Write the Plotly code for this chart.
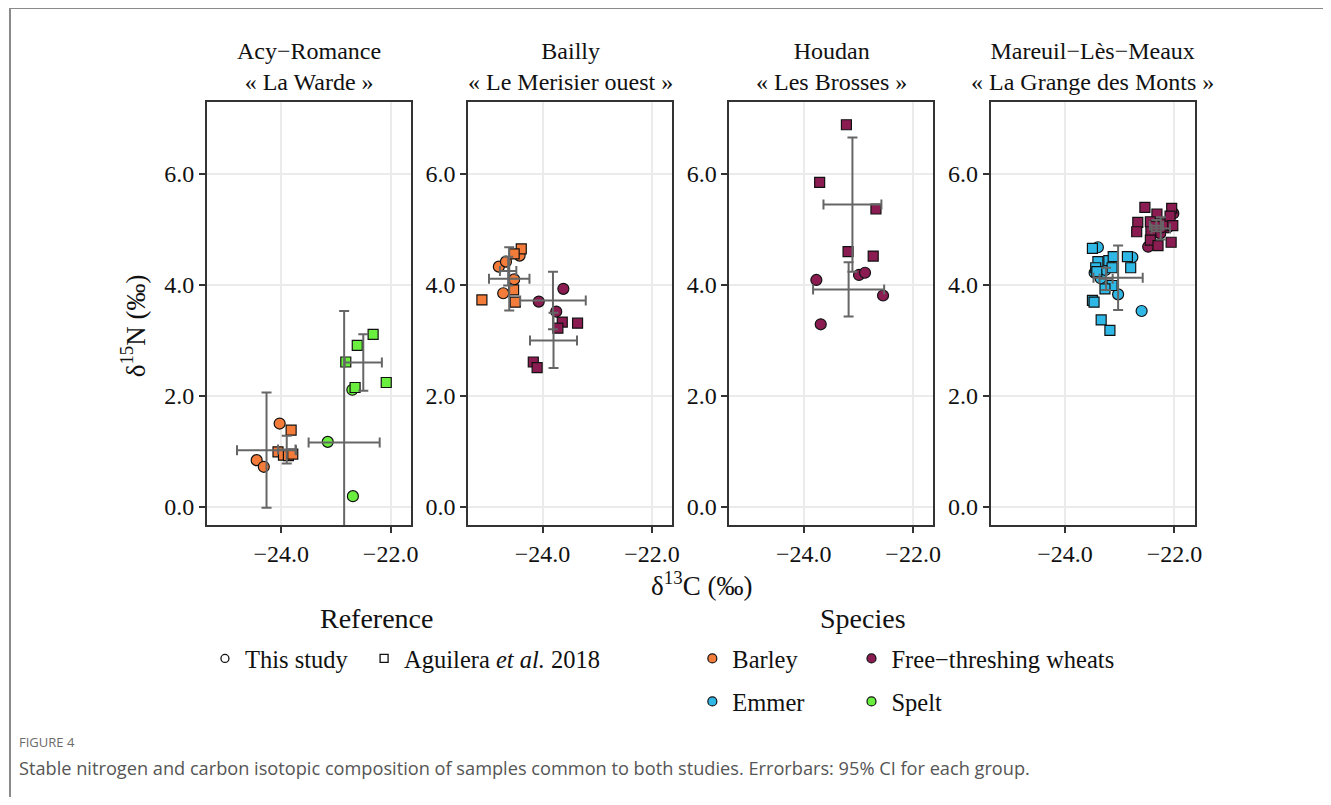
import plotly.graph_objects as go

# ---------------- data ----------------
SITES = ["Acy−Romance<br>« La Warde »",
         "Bailly<br>« Le Merisier ouest »",
         "Houdan<br>« Les Brosses »",
         "Mareuil−Lès−Meaux<br>« La Grange des Monts »"]

SPECIES = ["Barley", "Free−threshing wheats", "Emmer", "Spelt"]
SPECIES_COLORS = ["#F47C3A", "#8A1C52", "#2FB8E6", "#6BEF3F"]
REFERENCES = ["This study", "Aguilera <i>et al.</i> 2018"]

X_TICKS = [-24.0, -22.0]
Y_TICKS = [0.0, 2.0, 4.0, 6.0]

# Acy-Romance
ACY_BARLEY_THIS_X = [-24.03, -24.45, -24.32]
ACY_BARLEY_THIS_Y = [1.50, 0.84, 0.72]
ACY_BARLEY_AGU_X = [-23.82, -24.06, -23.96, -23.87, -23.79]
ACY_BARLEY_AGU_Y = [1.38, 0.99, 0.93, 0.92, 0.95]
ACY_SPELT_THIS_X = [-23.15, -22.70, -22.69]
ACY_SPELT_THIS_Y = [1.17, 2.11, 0.19]
ACY_SPELT_AGU_X = [-22.82, -22.61, -22.32, -22.65, -22.08]
ACY_SPELT_AGU_Y = [2.61, 2.91, 3.11, 2.15, 2.24]

# Bailly
BAI_BARLEY_THIS_X = [-24.80, -24.67, -24.42, -24.52, -24.72]
BAI_BARLEY_THIS_Y = [4.33, 4.42, 4.53, 4.10, 3.85]
BAI_BARLEY_AGU_X = [-24.39, -24.52, -24.53, -24.50, -25.11]
BAI_BARLEY_AGU_Y = [4.65, 4.56, 3.91, 3.69, 3.73]
BAI_FTW_THIS_X = [-24.07, -23.62, -23.75]
BAI_FTW_THIS_Y = [3.70, 3.93, 3.52]
BAI_FTW_AGU_X = [-23.64, -23.72, -23.36, -24.17, -24.10]
BAI_FTW_AGU_Y = [3.33, 3.22, 3.31, 2.61, 2.51]

# Houdan
HOU_FTW_THIS_X = [-23.77, -23.69, -22.99, -22.88, -22.55]
HOU_FTW_THIS_Y = [4.09, 3.29, 4.18, 4.22, 3.81]
HOU_FTW_AGU_X = [-23.22, -23.71, -22.68, -23.19, -22.73]
HOU_FTW_AGU_Y = [6.89, 5.85, 5.37, 4.60, 4.52]

# Mareuil-Les-Meaux
MAR_EMMER_THIS_X = [-23.40, -23.35, -23.46, -23.03, -22.60, -22.77, -23.26]
MAR_EMMER_THIS_Y = [4.68, 4.12, 4.22, 3.83, 3.53, 4.50, 4.27]
MAR_EMMER_AGU_X = [-23.50, -23.40, -23.44, -23.42, -23.20, -23.14, -23.12, -22.86,
                   -22.80, -23.14, -23.27, -23.50, -23.47, -23.34, -23.18]
MAR_EMMER_AGU_Y = [4.66, 4.42, 4.31, 4.24, 4.44, 4.31, 4.51, 4.51,
                   4.31, 3.99, 3.93, 3.72, 3.69, 3.37, 3.18]
MAR_FTW_THIS_X = [-22.48, -22.26, -22.12, -22.38, -22.02, -22.23]
MAR_FTW_THIS_Y = [4.69, 4.93, 5.04, 5.11, 5.29, 5.04]
MAR_FTW_AGU_X = [-22.54, -22.67, -22.69, -22.32, -22.43, -22.44, -22.30,
                 -22.17, -22.05, -22.08, -22.03, -22.06, -22.44, -22.35]
MAR_FTW_AGU_Y = [5.40, 5.13, 4.96, 5.28, 4.98, 4.81, 4.71,
                 5.10, 5.38, 5.24, 5.07, 4.77, 5.14, 5.06]

# group means and 95% CI half-widths (error bars)
EB_PANEL = [0, 0, 0, 0, 1, 1, 1, 1, 2, 2, 3, 3, 3, 3]
EB_MEAN_X = [-24.27, -23.90, -22.85, -22.50, -24.63, -24.61, -23.81, -23.80,
             -23.18, -23.11, -23.03, -23.25, -22.25, -22.33]
EB_MEAN_Y = [1.02, 1.03, 1.16, 2.60, 4.25, 4.11, 3.72, 3.00,
             3.92, 5.45, 4.13, 4.11, 5.02, 5.07]
EB_CI_X = [0.54, 0.16, 0.65, 0.34, 0.15, 0.37, 0.60, 0.43,
           0.65, 0.53, 0.45, 0.12, 0.17, 0.12]
EB_CI_Y = [1.04, 0.25, 2.37, 0.51, 0.26, 0.57, 0.52, 0.50,
           0.49, 1.21, 0.58, 0.20, 0.20, 0.10]

# (panel, species index, reference index, x, y)
GROUPS = [
    (0, 0, 0, ACY_BARLEY_THIS_X, ACY_BARLEY_THIS_Y),
    (0, 0, 1, ACY_BARLEY_AGU_X, ACY_BARLEY_AGU_Y),
    (0, 3, 0, ACY_SPELT_THIS_X, ACY_SPELT_THIS_Y),
    (0, 3, 1, ACY_SPELT_AGU_X, ACY_SPELT_AGU_Y),
    (1, 0, 0, BAI_BARLEY_THIS_X, BAI_BARLEY_THIS_Y),
    (1, 0, 1, BAI_BARLEY_AGU_X, BAI_BARLEY_AGU_Y),
    (1, 1, 0, BAI_FTW_THIS_X, BAI_FTW_THIS_Y),
    (1, 1, 1, BAI_FTW_AGU_X, BAI_FTW_AGU_Y),
    (2, 1, 0, HOU_FTW_THIS_X, HOU_FTW_THIS_Y),
    (2, 1, 1, HOU_FTW_AGU_X, HOU_FTW_AGU_Y),
    (3, 2, 0, MAR_EMMER_THIS_X, MAR_EMMER_THIS_Y),
    (3, 2, 1, MAR_EMMER_AGU_X, MAR_EMMER_AGU_Y),
    (3, 1, 0, MAR_FTW_THIS_X, MAR_FTW_THIS_Y),
    (3, 1, 1, MAR_FTW_AGU_X, MAR_FTW_AGU_Y),
]

# ---------------- layout helpers ----------------
W, H, OFF = 1315, 789, 8   # page body has an 8px margin


def px(X):
    return (X - OFF) / W


def py(Y):
    return 1 - (Y - OFF) / H


FONT = "Liberation Serif"
PANEL_LEFT = [208, 470.7, 733.3, 996]
PANEL_W = 205
PANEL_TOP, PANEL_BOTTOM = 102, 525
X_RANGE = [-25.36, -21.63]
Y_RANGE = [-0.33, 7.30]
SYMBOLS = ["circle", "square"]

fig = go.Figure()


def axname(i, letter):
    return letter if i == 0 else f"{letter}{i + 1}"


for (p, s, r, xs, ys) in GROUPS:
    fig.add_trace(go.Scatter(
        x=xs, y=ys, mode="markers",
        xaxis=axname(p, "x"), yaxis=axname(p, "y"),
        marker=dict(symbol=SYMBOLS[r], size=11 if r == 0 else 10,
                    color=SPECIES_COLORS[s],
                    line=dict(color="#111111", width=1.2)),
        showlegend=False, hoverinfo="skip"))

for p in range(4):
    idx = [i for i, q in enumerate(EB_PANEL) if q == p]
    fig.add_trace(go.Scatter(
        x=[EB_MEAN_X[i] for i in idx], y=[EB_MEAN_Y[i] for i in idx],
        mode="markers", xaxis=axname(p, "x"), yaxis=axname(p, "y"),
        marker=dict(size=1, color="rgba(0,0,0,0)"),
        error_x=dict(type="data", array=[EB_CI_X[i] for i in idx],
                     color="#666666", thickness=2, width=5),
        error_y=dict(type="data", array=[EB_CI_Y[i] for i in idx],
                     color="#666666", thickness=2, width=5),
        showlegend=False, hoverinfo="skip"))

# legend-only entries, one single-item legend per entry
REF_LEGENDS = ["legend", "legend2"]
for r, name in enumerate(REFERENCES):
    fig.add_trace(go.Scatter(
        x=[None], y=[None], mode="markers", name=name, legend=REF_LEGENDS[r],
        marker=dict(symbol=SYMBOLS[r], size=8, color="white",
                    line=dict(color="#111111", width=1.3))))
SPECIES_LEGENDS = ["legend3", "legend4", "legend5", "legend6"]
for s, name in enumerate(SPECIES):
    fig.add_trace(go.Scatter(
        x=[None], y=[None], mode="markers", name=name,
        legend=SPECIES_LEGENDS[s],
        marker=dict(symbol="circle", size=9, color=SPECIES_COLORS[s],
                    line=dict(color="#111111", width=1.2))))

layout = dict(
    width=W, height=H,
    margin=dict(l=0, r=0, t=0, b=0),
    paper_bgcolor="white", plot_bgcolor="white",
    font=dict(family=FONT, color="#111111", size=24),
)

for p in range(4):
    common = dict(showgrid=True, gridcolor="#EBEBEB", gridwidth=1.5,
                  zeroline=False, showline=True, mirror=True,
                  linecolor="#333333", linewidth=2,
                  ticks="outside", ticklen=6, tickwidth=1.5, tickcolor="#333333",
                  tickformat=".1f",
                  tickfont=dict(size=24, family=FONT, color="#111111"))
    xa = dict(domain=[px(PANEL_LEFT[p]), px(PANEL_LEFT[p] + PANEL_W)],
              range=X_RANGE, tickvals=X_TICKS, anchor=axname(p, "y"), **common)
    ya = dict(domain=[py(PANEL_BOTTOM), py(PANEL_TOP)],
              range=Y_RANGE, tickvals=Y_TICKS, anchor=axname(p, "x"), **common)
    layout["xaxis" if p == 0 else f"xaxis{p + 1}"] = xa
    layout["yaxis" if p == 0 else f"yaxis{p + 1}"] = ya

LEG_COMMON = dict(orientation="h", xanchor="left", yanchor="top",
                  bgcolor="rgba(0,0,0,0)",
                  font=dict(family=FONT, size=24.5, color="#111111"),
                  itemclick=False, itemdoubleclick=False)
# (left edge, top edge) in page pixels for each single-item legend
LEGEND_POS = {"legend": (206, 636), "legend2": (366, 636),
              "legend3": (696, 636), "legend4": (856, 636),
              "legend5": (696, 679), "legend6": (856, 679)}
for key, (lx, ly) in LEGEND_POS.items():
    layout[key] = dict(x=px(lx), y=py(ly), **LEG_COMMON)

annotations = []
for p in range(4):
    annotations.append(dict(
        text=SITES[p], xref="paper", yref="paper",
        x=px(PANEL_LEFT[p] + PANEL_W / 2), y=py(97),
        xanchor="center", yanchor="bottom", showarrow=False,
        font=dict(family=FONT, size=24, color="#111111")))
annotations += [
    dict(text="δ<sup>15</sup>N (‰)", xref="paper", yref="paper",
         x=px(134), y=py(326), textangle=-90, showarrow=False,
         xanchor="center", yanchor="middle",
         font=dict(family=FONT, size=27, color="#111111")),
    dict(text="δ<sup>13</sup>C (‰)", xref="paper", yref="paper",
         x=px(705), y=py(584), showarrow=False,
         xanchor="center", yanchor="middle",
         font=dict(family=FONT, size=27, color="#111111")),
    dict(text="Reference", xref="paper", yref="paper",
         x=px(378), y=py(618), showarrow=False,
         xanchor="center", yanchor="middle",
         font=dict(family=FONT, size=28, color="#111111")),
    dict(text="Species", xref="paper", yref="paper",
         x=px(868), y=py(618), showarrow=False,
         xanchor="center", yanchor="middle",
         font=dict(family=FONT, size=28, color="#111111")),
    dict(text="FIGURE 4", xref="paper", yref="paper",
         x=px(17), y=py(742), showarrow=False,
         xanchor="left", yanchor="middle",
         font=dict(family="Open Sans", size=13, color="#6b6b6b")),
    dict(text="Stable nitrogen and carbon isotopic composition of samples common to both studies. Errorbars: 95% CI for each group.",
         xref="paper", yref="paper",
         x=px(17), y=py(768), showarrow=False,
         xanchor="left", yanchor="middle",
         font=dict(family="Open Sans", size=18.2, color="#555555")),
]
layout["annotations"] = annotations

layout["shapes"] = [
    dict(type="path", xref="paper", yref="paper",
         path=f"M {px(10)} {py(805)} L {px(10)} {py(8)} L {px(1331)} {py(8)}",
         line=dict(color="#8a8a8a", width=2)),
]

fig.update_layout(**layout)
fig.write_html("out.html")
